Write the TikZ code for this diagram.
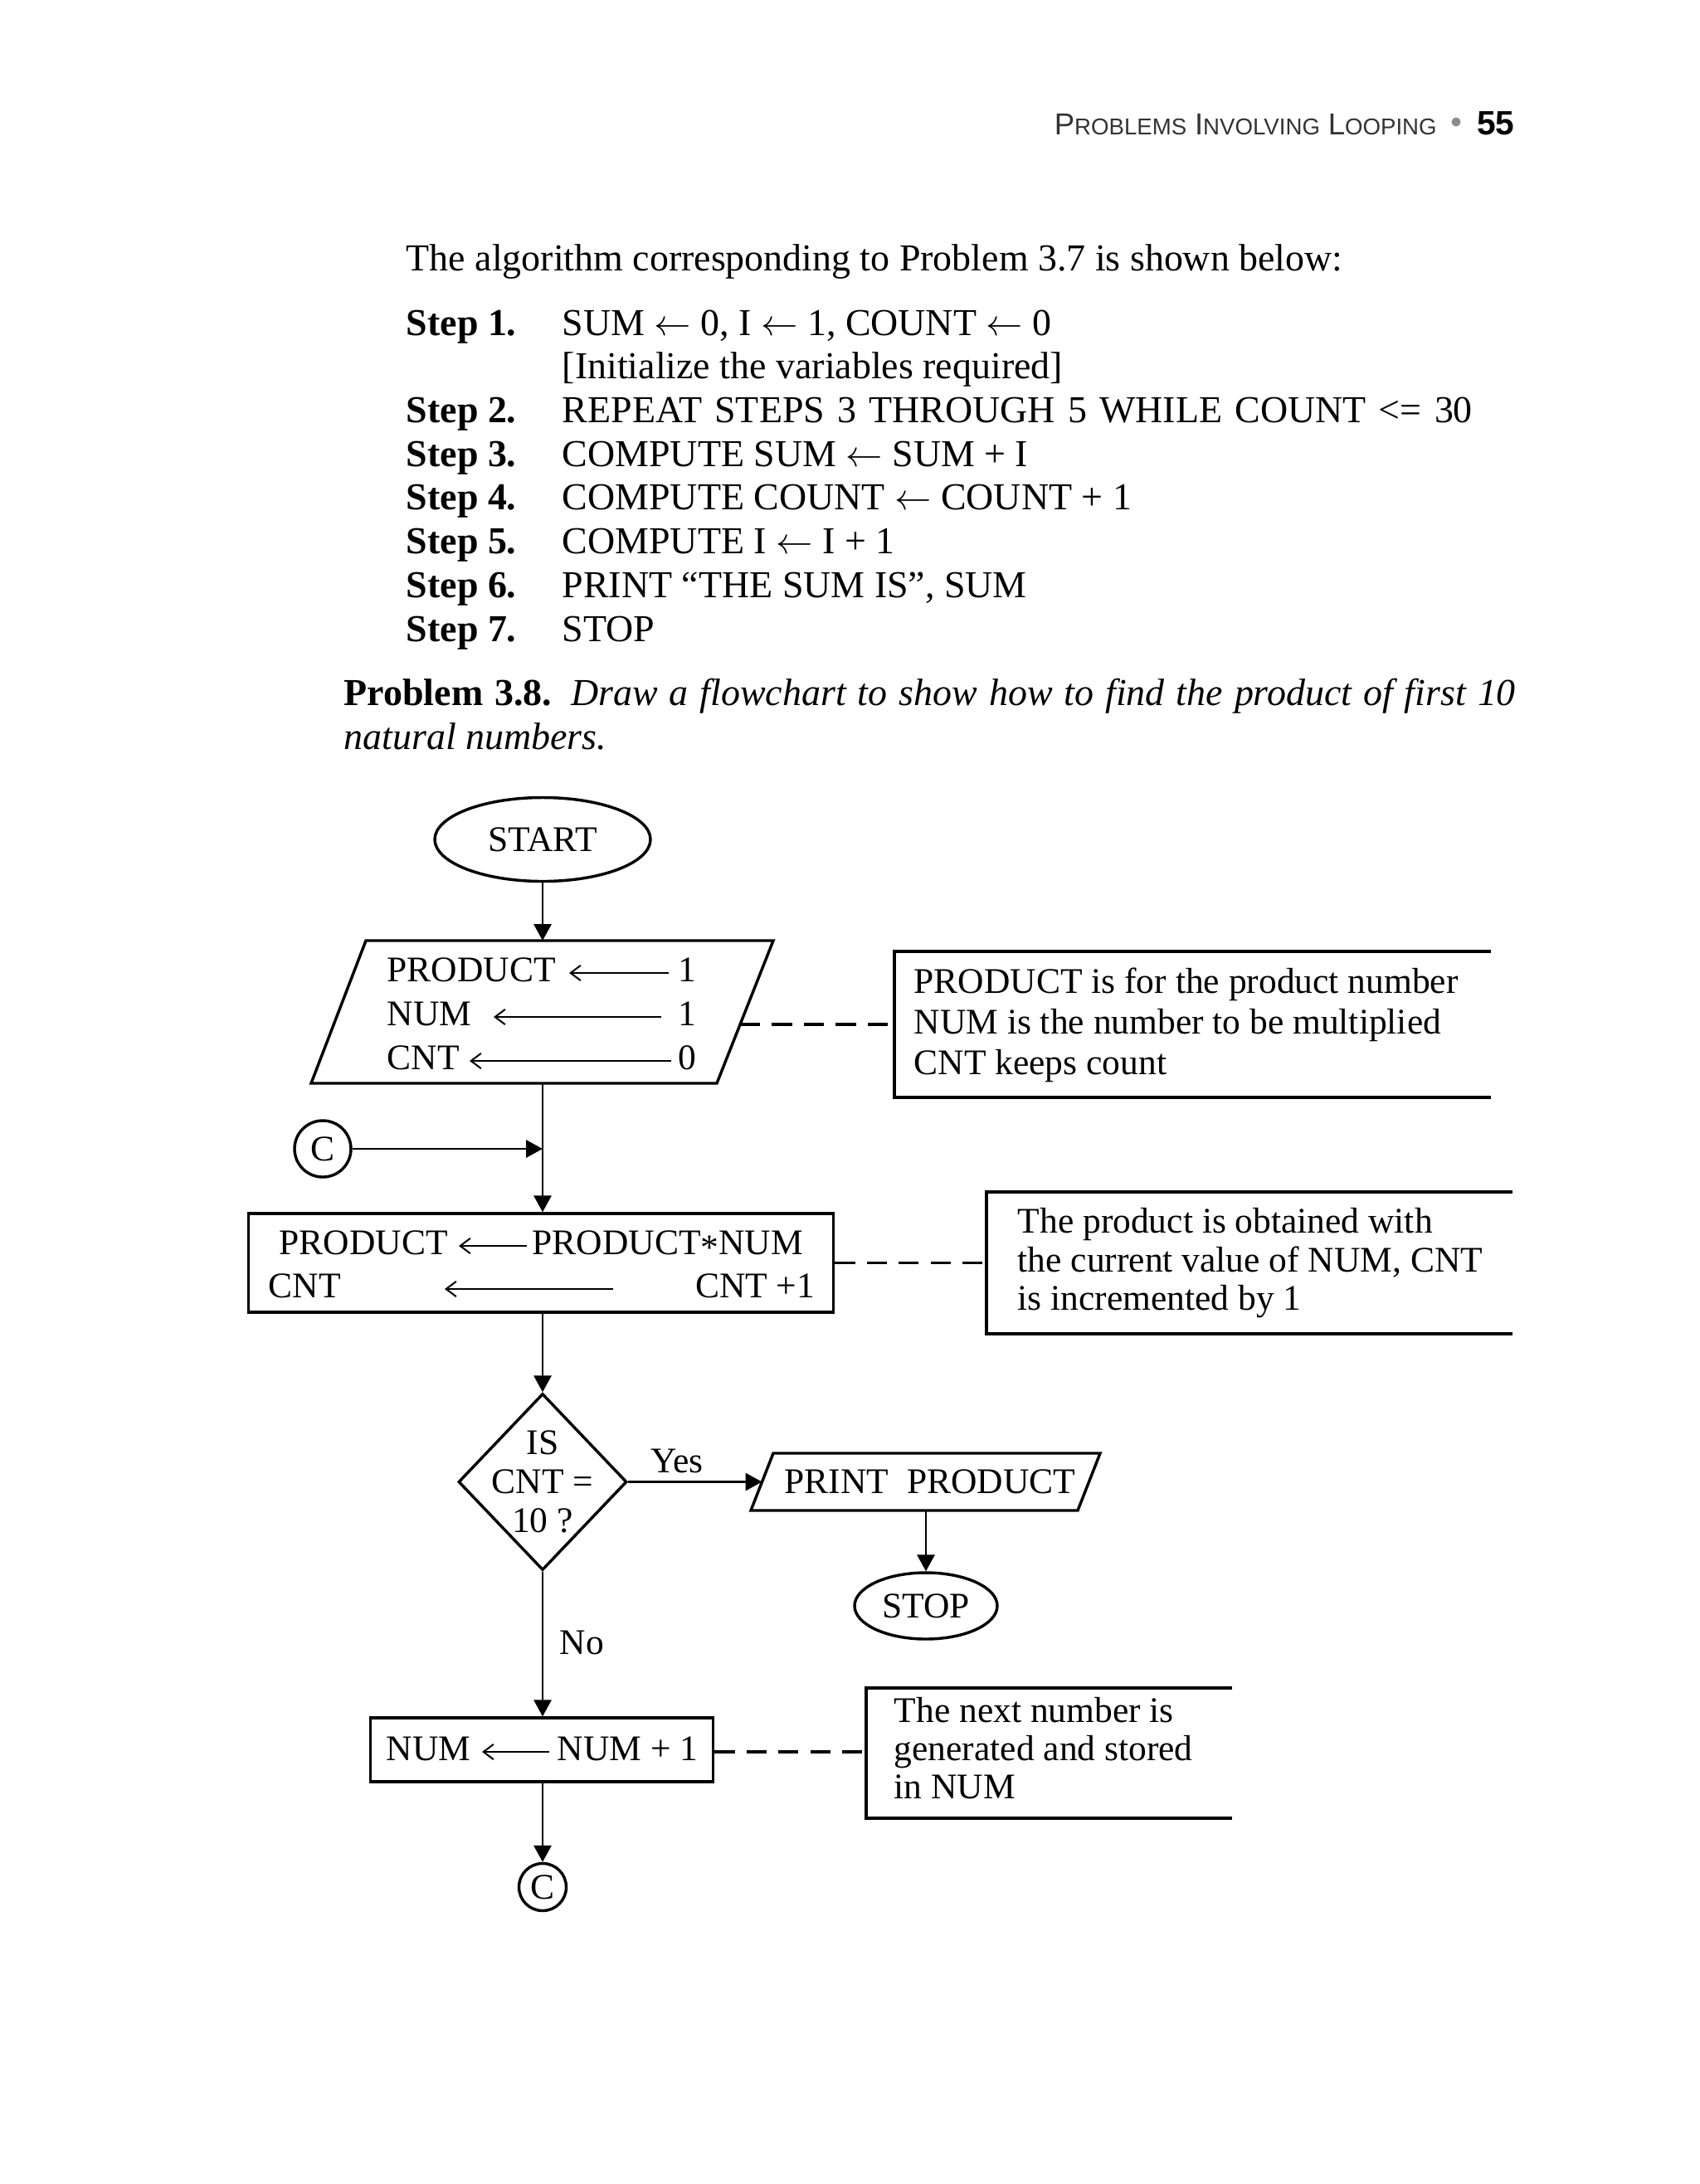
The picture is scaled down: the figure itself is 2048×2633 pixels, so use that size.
\documentclass[tikz,border=0pt]{standalone}
\usepackage{fontspec}
\setmainfont{Liberation Serif}
\newfontfamily\hdrfont{Liberation Sans}
\usetikzlibrary{shapes.geometric,arrows.meta}
\newcommand\pxu{0.24609bp}
\newcommand\hsc[2]{{\fontsize{9bp}{10bp}\selectfont #1}{\fontsize{6.8bp}{8bp}\selectfont #2}}
\newcommand\la{\ $\leftarrow$\ }
\begin{document}
\begin{tikzpicture}[x=0.24609bp,y={(0bp,-0.24609bp)},
  fc/.style={font=\fontsize{10.7bp}{12bp}\selectfont, inner sep=0pt},
  fcl/.style={fc, anchor=base west},
  fcc/.style={fc, anchor=base},
  body/.style={font=\fontsize{11.3bp}{13bp}\selectfont, inner sep=0pt, anchor=base west},
  steplabel/.style={font=\fontsize{11.3bp}{13bp}\selectfont\bfseries, inner sep=0pt, anchor=base west},
  shapeline/.style={line width=0.85pt},
  conn/.style={line width=0.6pt, -{Triangle[length=4.9pt,width=5.2pt]}},
  noteline/.style={line width=0.85pt},
  notelink/.style={line width=0.8pt, dash pattern=on 6pt off 3.5pt},
  inarrow/.style={line width=0.5pt, -{Straight Barb[length=3pt,width=4.5pt]}}
]
\useasboundingbox (0,0) rectangle (2048,2633);

% ---------- header ----------
\node[anchor=base west, inner sep=0pt, text=black!80, font=\hdrfont] (hdr) at (1270,162)
  {\hsc{P}{ROBLEMS}\hspace{2.4bp}\hsc{I}{NVOLVING}\hspace{2.4bp}\hsc{L}{OOPING}};
\node[circle, fill=black!45, minimum size=11*\pxu, inner sep=0pt] (bul) at (1755,147) {};
\node[anchor=base east, inner sep=0pt, font=\hdrfont\bfseries\fontsize{10bp}{12bp}\selectfont] (pg) at (1826,162) {55};

% ---------- body text ----------
\node[body] (intro) at (489,326) {The algorithm corresponding to Problem 3.7 is shown below:};
\node[steplabel] (s1) at (489,404) {Step 1.};
\node[body] (t1) at (677,404) {SUM\la 0, I\la 1, COUNT\la 0};
\node[body] (t1b) at (677,456.7) {[Initialize the variables required]};
\node[steplabel] (s2) at (489,509.4) {Step 2.};
\node[body] (t2) at (677,509.4) {\makebox[270bp][s]{REPEAT STEPS 3 THROUGH 5 WHILE COUNT <= 30}};
\node[steplabel] (s3) at (489,562) {Step 3.};
\node[body] (t3) at (677,562) {COMPUTE SUM\la SUM + I};
\node[steplabel] (s4) at (489,614.8) {Step 4.};
\node[body] (t4) at (677,614.8) {COMPUTE COUNT\la COUNT + 1};
\node[steplabel] (s5) at (489,667.5) {Step 5.};
\node[body] (t5) at (677,667.5) {COMPUTE I\la I + 1};
\node[steplabel] (s6) at (489,720.2) {Step 6.};
\node[body] (t6) at (677,720.2) {PRINT “THE SUM IS”, SUM};
\node[steplabel] (s7) at (489,773) {Step 7.};
\node[body] (t7) at (677,773) {STOP};
\node[body] (prob) at (414,850) {\makebox[347.5bp][s]{\textbf{Problem 3.8.} \textit{Draw a flowchart to show how to find the product of first 10}}};
\node[body] (prob2) at (414,903) {\textit{natural numbers.}};

% ---------- START ----------
\node[ellipse, draw, shapeline, minimum width=260*\pxu, minimum height=101*\pxu, fc] (start) at (654,1012) {START};

% ---------- input parallelogram ----------
\draw[shapeline] (441,1134) -- (932,1134) -- (864,1306) -- (375,1306) -- cycle;
\coordinate (p1n) at (654,1134);
\coordinate (p1s) at (654,1306);
\coordinate (p1e) at (892,1235);
\node[fcl] (p1a) at (466,1183) {PRODUCT};
\draw[inarrow] (806,1173) -- (686,1173);
\node[fcl] (p1av) at (817,1183) {1};
\node[fcl] (p1b) at (466,1236) {NUM};
\draw[inarrow] (797,1226) -- (595,1226);
\node[fcl] (p1bv) at (817,1236) {1};
\node[fcl] (p1c) at (466,1289) {CNT};
\draw[inarrow] (809,1279) -- (566,1279);
\node[fcl] (p1cv) at (817,1289) {0};

% note 1
\draw[noteline] (1797,1147) -- (1078,1147) -- (1078,1323) -- (1797,1323);
\coordinate (n1w) at (1078,1235);
\node[fcl] (n1a) at (1101,1197) {PRODUCT is for the product number};
\node[fcl] (n1b) at (1101,1246) {NUM is the number to be multiplied};
\node[fcl] (n1c) at (1101,1295) {CNT keeps count};
\draw[notelink] (p1e) -- (n1w);

% ---------- connector C and process 1 ----------
\node[circle, draw, shapeline, minimum size=68*\pxu, fc] (c1) at (389,1385) {C};
\coordinate (jn) at (654,1385);
\node[draw, shapeline, minimum width=705*\pxu, minimum height=119*\pxu, inner sep=0pt] (r2) at (652,1522.5) {};
\node[fcl] (r2a) at (336,1512) {PRODUCT};
\draw[inarrow] (635,1502) -- (553,1502);
\node[fcl] (r2b) at (641,1512) {PRODUCT\raisebox{-0.3ex}{*}NUM};
\node[fcl] (r2c) at (323,1564) {CNT};
\draw[inarrow] (739,1554) -- (536,1554);
\node[fc, anchor=base east] (r2d) at (983,1564) {CNT +1};

\draw[conn] (start.south) -- (p1n);
\draw[conn] (p1s) -- (p1s |- r2.north);
\draw[conn] (c1) -- (jn);

% note 2
\draw[noteline] (1823,1437) -- (1189,1437) -- (1189,1608) -- (1823,1608);
\coordinate (n2w) at (1189,1522.5);
\node[fcl] (n2a) at (1226,1486) {The product is obtained with};
\node[fcl] (n2b) at (1226,1533) {the current value of NUM, CNT};
\node[fcl] (n2c) at (1226,1579) {is incremented by 1};
\draw[notelink] (r2.east) -- (n2w);

% ---------- decision ----------
\node[diamond, draw, shapeline, minimum width=203*\pxu, minimum height=213*\pxu, inner sep=0pt] (dec) at (654,1786.5) {};
\node[fcc] (d1) at (654,1753) {IS};
\node[fcc] (d2) at (654,1800) {CNT =};
\node[fcc] (d3) at (654,1847) {10 ?};
\draw[conn] (dec.north |- r2.south) -- (dec.north);

% print
\draw[shapeline] (932,1752) -- (1326,1752) -- (1299,1821) -- (905,1821) -- cycle;
\coordinate (prw) at (918.5,1786.5);
\coordinate (prs) at (1116,1821);
\node[fcl] (prt) at (945,1800) {PRINT\ \ PRODUCT};
\draw[conn] (dec.east) -- (prw);
\node[fcc] (yes) at (816,1775) {Yes};

% stop
\node[ellipse, draw, shapeline, minimum width=172*\pxu, minimum height=80*\pxu, fc] (stop) at (1116,1936) {STOP};
\draw[conn] (prs) -- (stop.north);

% ---------- process 2 ----------
\node[draw, shapeline, minimum width=413*\pxu, minimum height=77*\pxu, inner sep=0pt] (r3) at (653,2109.5) {};
\node[fcl] (r3a) at (465,2122) {NUM};
\draw[inarrow] (662,2112) -- (581,2112);
\node[fcl] (r3b) at (671,2122) {NUM + 1};
\draw[conn] (dec.south) -- (dec.south |- r3.north);
\node[fcl] (no) at (674,1994) {No};

% note 3
\draw[noteline] (1485,2035) -- (1044,2035) -- (1044,2192) -- (1485,2192);
\coordinate (n3w) at (1044,2112);
\node[fcl] (n3a) at (1077,2076) {The next number is};
\node[fcl] (n3b) at (1077,2122) {generated and stored};
\node[fcl] (n3c) at (1077,2168) {in NUM};
\draw[notelink] (r3.east |- n3w) -- (n3w);

% bottom connector
\node[circle, draw, shapeline, minimum size=57*\pxu, fc] (c2) at (654,2275) {C};
\draw[conn] (c2.north |- r3.south) -- (c2.north);
\end{tikzpicture}
\end{document}
